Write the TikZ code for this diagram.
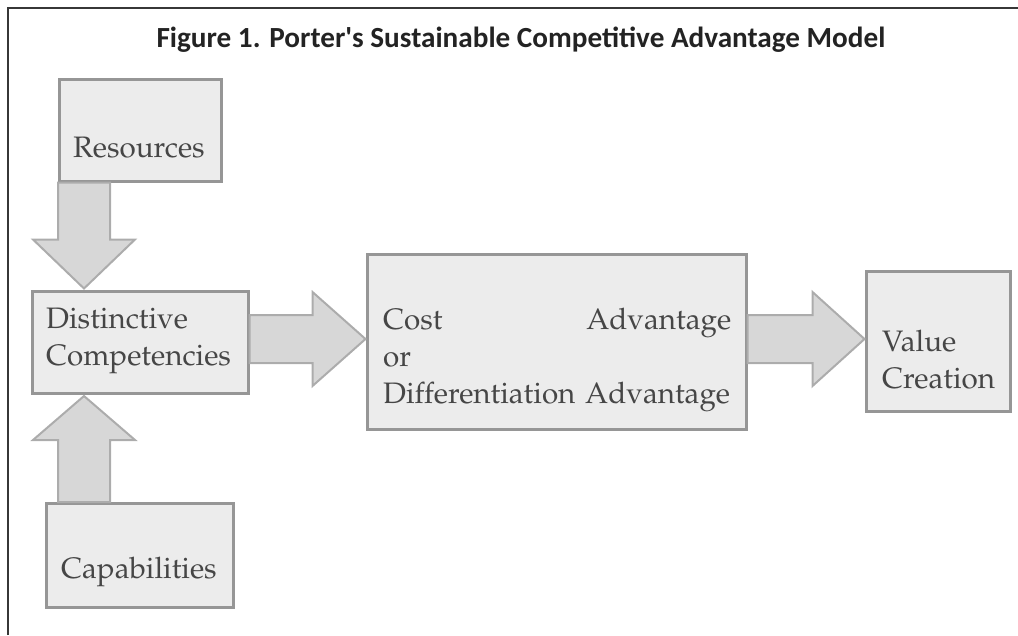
\documentclass[tikz,border=0pt]{standalone}
\usepackage[T1]{fontenc}
\usepackage{fontspec}
\newfontfamily\titlefont{Carlito}
\newcommand{\boxfont}{\fontencoding{T1}\fontfamily{ppl}\fontsize{29.6}{37}\selectfont}
\usetikzlibrary{positioning, calc}

\definecolor{boxfill}{RGB}{236,236,236}
\definecolor{boxline}{RGB}{150,150,150}
\definecolor{boxtext}{RGB}{70,70,70}
\definecolor{arrowfill}{RGB}{215,215,215}
\definecolor{arrowline}{RGB}{172,172,172}
\definecolor{framecol}{RGB}{55,55,55}
\definecolor{titlecol}{RGB}{35,35,35}

\begin{document}
\begin{tikzpicture}[
    x=1pt, y=-1pt,
    block/.style={
      draw=boxline, fill=boxfill, line width=2.5pt, inner sep=0pt, anchor=north west
    },
    blocktext/.style={
      text=boxtext, font=\boxfont, align=left, inner sep=0pt, anchor=west
    },
    fatarrow/.style={
      draw=arrowline, fill=arrowfill, line width=2pt, line join=miter
    },
  ]
    \useasboundingbox (0,0) rectangle (1018,635);

    % frame
    \draw [line width=2pt, framecol] (8,635) -- (8,8) -- (1018,8);

    % title
    \node [font=\titlefont\bfseries\fontsize{29.2}{30}\selectfont, text=titlecol] (title) at (521,40) {Figure 1. Porter's Sustainable Competitive Advantage Model};

    % boxes
    \node [block, minimum width=162pt, minimum height=102pt] (resources) at (58,78) {};
    \node [block, minimum width=216pt, minimum height=102pt] (competencies) at (31,290) {};
    \node [block, minimum width=187pt, minimum height=104pt] (capabilities) at (45,502) {};
    \node [block, minimum width=379pt, minimum height=175pt] (advantage) at (366,253) {};
    \node [block, minimum width=144pt, minimum height=140pt] (value_creation) at (865,270) {};

    % box texts
    \node [blocktext] (resources_text) at (73,148) {Resources};
    \node [blocktext] (competencies_text) at (46,341) {Distinctive\\Competencies};
    \node [blocktext] (capabilities_text) at (61,572) {Capabilities};
    \node [blocktext, text width=348pt] (advantage_text) at (383,360) {Cost\hfill Advantage\\or\\Differentiation Advantage};
    \node [blocktext] (value_text) at (882,360) {Value\\Creation};

    % block arrows
    \draw [fatarrow] (resources.south west) -- ++(52,0) -- ++(0,57) -- ++(25,0) -- ++(-51,49) -- ++(-51,-49) -- ++(25,0) -- cycle;
    \draw [fatarrow] (capabilities.north -| resources.south west) -- ++(52,0) -- ++(0,-62) -- ++(25,0) -- ++(-51,-44) -- ++(-51,44) -- ++(25,0) -- cycle;
    \draw [fatarrow] ($(competencies.north east)+(0,25)$) -- ++(63,0) -- ++(0,-23) -- ++(53,47) -- ++(-53,47) -- ++(0,-23) -- ++(-63,0) -- cycle;
    \draw [fatarrow] ($(advantage.north east)+(0,62)$) -- ++(65,0) -- ++(0,-23) -- ++(52,47) -- ++(-52,47) -- ++(0,-23) -- ++(-65,0) -- cycle;

  \end{tikzpicture}
\end{document}
